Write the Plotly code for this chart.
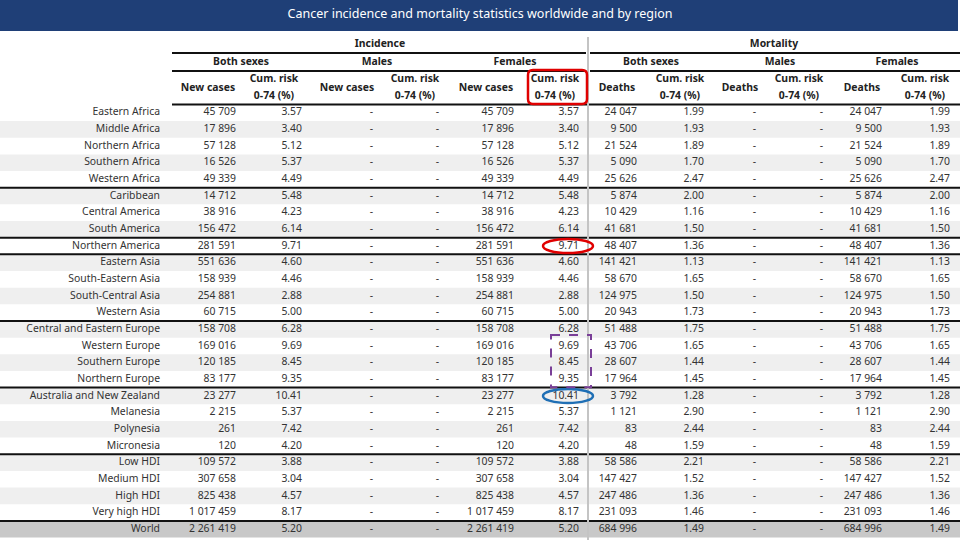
import plotly.graph_objects as go

regions = ["Eastern Africa", "Middle Africa", "Northern Africa", "Southern Africa", "Western Africa",
           "Caribbean", "Central America", "South America", "Northern America",
           "Eastern Asia", "South-Eastern Asia", "South-Central Asia", "Western Asia",
           "Central and Eastern Europe", "Western Europe", "Southern Europe", "Northern Europe",
           "Australia and New Zealand", "Melanesia", "Polynesia", "Micronesia",
           "Low HDI", "Medium HDI", "High HDI", "Very high HDI", "World"]

inc_new_cases = [45709, 17896, 57128, 16526, 49339, 14712, 38916, 156472, 281591, 551636, 158939,
                 254881, 60715, 158708, 169016, 120185, 83177, 23277, 2215, 261, 120, 109572,
                 307658, 825438, 1017459, 2261419]
inc_cum_risk = [3.57, 3.40, 5.12, 5.37, 4.49, 5.48, 4.23, 6.14, 9.71, 4.60, 4.46, 2.88, 5.00, 6.28,
                9.69, 8.45, 9.35, 10.41, 5.37, 7.42, 4.20, 3.88, 3.04, 4.57, 8.17, 5.20]
mort_deaths = [24047, 9500, 21524, 5090, 25626, 5874, 10429, 41681, 48407, 141421, 58670, 124975,
               20943, 51488, 43706, 28607, 17964, 3792, 1121, 83, 48, 58586, 147427, 247486,
               231093, 684996]
mort_cum_risk = [1.99, 1.93, 1.89, 1.70, 2.47, 2.00, 1.16, 1.50, 1.36, 1.13, 1.65, 1.50, 1.73, 1.75,
                 1.65, 1.44, 1.45, 1.28, 2.90, 2.44, 1.59, 2.21, 1.52, 1.36, 1.46, 1.49]
# index of the last row of each group (thick separator drawn below)
group_ends = [4, 7, 8, 12, 16, 20, 24]

title = "Cancer incidence and mortality statistics worldwide and by region"
col_headers = [("New cases", None), ("Cum. risk", "0-74 (%)"), ("New cases", None), ("Cum. risk", "0-74 (%)"),
               ("New cases", None), ("Cum. risk", "0-74 (%)"), ("Deaths", None), ("Cum. risk", "0-74 (%)"),
               ("Deaths", None), ("Cum. risk", "0-74 (%)"), ("Deaths", None), ("Cum. risk", "0-74 (%)")]
group_headers = ["Both sexes", "Males", "Females", "Both sexes", "Males", "Females"]
top_headers = ["Incidence", "Mortality"]

# ---- layout geometry ----
W, H = 960, 540
ROW0 = 104.4
RH = 16.66
LABEL_X = 160
val_x = [236, 302, 373, 439, 514, 579, 637, 704, 756, 823, 882, 950]
hdr_x = [208, 274, 347, 415, 486, 555, 617, 680, 740, 799, 862, 925]
grp_x = [241, 377, 515, 651, 780, 897]
top_x = [380, 774]
FONT = "Noto Sans"
TXT = "#333333"
FS = 10.4


def fmt_int(v):
    return f"{v:,}".replace(",", " ")


def fmt_f(v):
    return f"{v:.2f}"


n = len(regions)
ycent = [ROW0 + RH * (i + 0.5) for i in range(n)]
dash = ["-"] * n

columns = [
    [fmt_int(v) for v in inc_new_cases], [fmt_f(v) for v in inc_cum_risk], dash, dash,
    [fmt_int(v) for v in inc_new_cases], [fmt_f(v) for v in inc_cum_risk],
    [fmt_int(v) for v in mort_deaths], [fmt_f(v) for v in mort_cum_risk], dash, dash,
    [fmt_int(v) for v in mort_deaths], [fmt_f(v) for v in mort_cum_risk],
]

fig = go.Figure()
shapes = []

# title bar
shapes.append(dict(type="rect", x0=0, x1=958, y0=0, y1=31, fillcolor="#1f3f77", line=dict(width=0), layer="below"))

# row shading
for i in range(n):
    y0 = ROW0 + RH * i
    if i == n - 1:
        shapes.append(dict(type="rect", x0=0, x1=W, y0=y0, y1=y0 + RH, fillcolor="#c8c8c8",
                           line=dict(width=0), layer="below"))
    elif i % 2 == 1:
        shapes.append(dict(type="rect", x0=0, x1=W, y0=y0, y1=y0 + RH, fillcolor="#efefef",
                           line=dict(width=0), layer="below"))

# header lines
for yy in (53, 71):
    shapes.append(dict(type="line", x0=172, x1=586, y0=yy, y1=yy, line=dict(color="#111111", width=2)))
    shapes.append(dict(type="line", x0=590, x1=W, y0=yy, y1=yy, line=dict(color="#111111", width=2)))
shapes.append(dict(type="line", x0=172, x1=W, y0=ROW0, y1=ROW0, line=dict(color="#111111", width=2)))

# group separator lines
for g in group_ends:
    yy = ROW0 + RH * (g + 1)
    shapes.append(dict(type="line", x0=0, x1=W, y0=yy, y1=yy, line=dict(color="#111111", width=2)))

# vertical separator
shapes.append(dict(type="line", x0=588, x1=588, y0=37, y1=H, line=dict(color="#c4c4c4", width=2)))

# annotation marks
shapes.append(dict(type="path",
                   path="M 533,70 L 582,70 Q 587,70 587,75 L 587,99 Q 587,104 582,104 L 533,104 Q 528,104 528,99 L 528,75 Q 528,70 533,70 Z",
                   line=dict(color="#e00000", width=2.5)))
yi = regions.index("Northern America")
shapes.append(dict(type="circle", x0=543, x1=593, y0=ycent[yi] - 7, y1=ycent[yi] + 7,
                   line=dict(color="#e00000", width=2.5)))
yi = regions.index("Australia and New Zealand")
shapes.append(dict(type="circle", x0=543, x1=593, y0=ycent[yi] - 7, y1=ycent[yi] + 7,
                   line=dict(color="#1f6fb5", width=2.5)))
ya = regions.index("Western Europe")
yb = regions.index("Northern Europe")
shapes.append(dict(type="rect", x0=551, x1=591, y0=ycent[ya] - 11, y1=ycent[yb] + 8,
                   line=dict(color="#7a3f98", width=2, dash="dash")))

# row labels
fig.add_trace(go.Scatter(x=[LABEL_X] * n, y=ycent, mode="text", text=regions, textposition="middle left",
                         textfont=dict(family=FONT, size=FS, color=TXT), hoverinfo="skip"))
# data columns
for cx, vals in zip(val_x, columns):
    fig.add_trace(go.Scatter(x=[cx] * n, y=ycent, mode="text", text=vals, textposition="middle left",
                             textfont=dict(family=FONT, size=FS, color=TXT), hoverinfo="skip"))

# column headers
hx1, ht1, hx2, ht2 = [], [], [], []
for cx, (a, b) in zip(hdr_x, col_headers):
    if b is None:
        hx1.append(cx); ht1.append("<b>" + a + "</b>")
    else:
        hx2.append(cx); ht2.append("<b>" + a + "</b>")
        hx2.append(cx); ht2.append("<b>" + b + "</b>")
fig.add_trace(go.Scatter(x=hx1, y=[88] * len(hx1), mode="text", text=ht1, textposition="middle center",
                         textfont=dict(family=FONT, size=FS, color="#222222"), hoverinfo="skip"))
fig.add_trace(go.Scatter(x=hx2, y=[79.5, 96.5] * (len(hx2) // 2), mode="text", text=ht2,
                         textposition="middle center",
                         textfont=dict(family=FONT, size=FS, color="#222222"), hoverinfo="skip"))
fig.add_trace(go.Scatter(x=grp_x, y=[62] * len(grp_x), mode="text", text=["<b>" + t + "</b>" for t in group_headers],
                         textposition="middle center",
                         textfont=dict(family=FONT, size=FS, color="#222222"), hoverinfo="skip"))
fig.add_trace(go.Scatter(x=top_x, y=[44] * len(top_x), mode="text", text=["<b>" + t + "</b>" for t in top_headers],
                         textposition="middle center",
                         textfont=dict(family=FONT, size=FS, color="#222222"), hoverinfo="skip"))
fig.add_trace(go.Scatter(x=[480], y=[15], mode="text", text=[title], textposition="middle center",
                         textfont=dict(family=FONT, size=12.5, color="#ffffff"), hoverinfo="skip"))

fig.update_layout(
    width=W, height=H, margin=dict(l=0, r=0, t=0, b=0),
    paper_bgcolor="white", plot_bgcolor="white", showlegend=False,
    xaxis=dict(range=[0, W], visible=False, fixedrange=True),
    yaxis=dict(range=[H, 0], visible=False, fixedrange=True),
    shapes=shapes,
)
fig.write_html("out.html", config={"displayModeBar": False},
               post_script="document.body.style.margin='0';document.body.style.overflow='hidden';")
